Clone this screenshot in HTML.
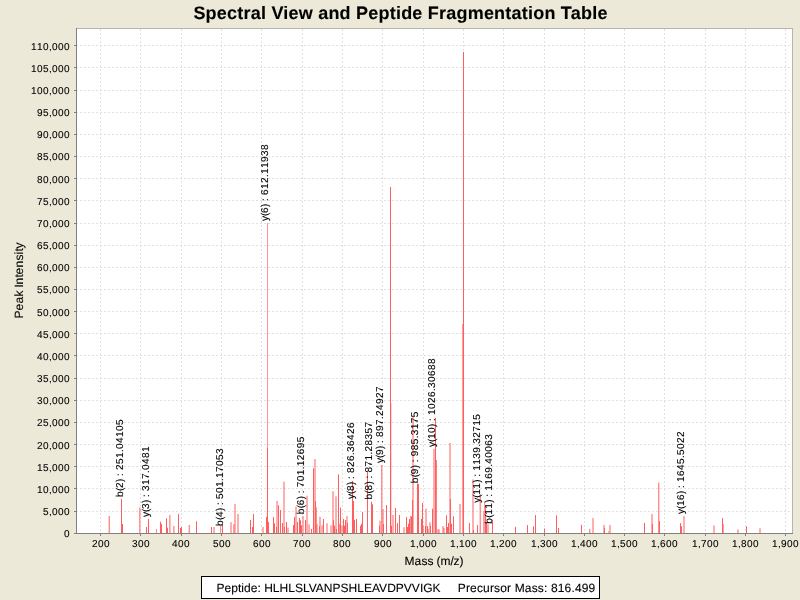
<!DOCTYPE html><html><head><meta charset="utf-8"><title>Spectral View and Peptide Fragmentation Table</title>
<style>html,body{margin:0;padding:0;background:#ECE9D8;width:800px;height:600px;overflow:hidden}svg{display:block;will-change:transform}text{font-family:'Liberation Sans', Arial, sans-serif;fill:#000;text-rendering:geometricPrecision;stroke:#000;stroke-width:0.1px}</style></head><body>
<svg width="800" height="600" viewBox="0 0 800 600">
<rect x="0" y="0" width="800" height="600" fill="#ECE9D8"/>
<text x="400.4" y="19" text-anchor="middle" font-weight="bold" font-size="18" textLength="414" lengthAdjust="spacing">Spectral View and Peptide Fragmentation Table</text>
<rect x="76" y="28" width="717" height="506" fill="#FFFFFF"/>
<path d="M100.5 29V533M140.5 29V533M181.5 29V533M221.5 29V533M261.5 29V533M302.5 29V533M342.5 29V533M382.5 29V533M423.5 29V533M463.5 29V533M503.5 29V533M544.5 29V533M584.5 29V533M624.5 29V533M664.5 29V533M705.5 29V533M745.5 29V533M785.5 29V533M76 511.5H792M76 488.5H792M76 466.5H792M76 444.5H792M76 422.5H792M76 400.5H792M76 378.5H792M76 355.5H792M76 333.5H792M76 311.5H792M76 289.5H792M76 267.5H792M76 245.5H792M76 223.5H792M76 200.5H792M76 178.5H792M76 156.5H792M76 134.5H792M76 112.5H792M76 90.5H792M76 67.5H792M76 45.5H792" stroke="#E0E0E0" stroke-width="1" stroke-dasharray="2 2" fill="none" shape-rendering="crispEdges"/>
<path d="M109.2 516.0V533M121.5 499.0V533M122.5 524.0V533M139.85 507.5V533M146.5 527.0V533M148.5 519.0V533M160.5 521.7V533M161.5 524.0V533M166.5 518.3V533M167.5 527.7V533M169.9 515.0V533M173.9 526.0V533M178.5 514.0V533M180.5 528.0V533M181.5 527.0V533M189.2 525.0V533M196.5 521.3V533M211.5 527.0V533M214.0 527.0V533M222.5 525.3V533M231.0 522.2V533M233.9 524.2V533M235.0 504.0V533M238.0 514.0V533M250.5 520.0V533M252.5 527.0V533M253.5 514.0V533M263.0 527.0V533M266.5 517.0V533M267.5 448.0V533M268.5 522.0V533M273.5 517.0V533M274.5 523.3V533M276.5 527.0V533M277.0 501.0V533M278.5 505.3V533M280.5 510.0V533M282.5 523.0V533M284.0 481.7V533M284.5 527.0V533M286.5 522.0V533M288.0 527.7V533M293.5 525.0V533M294.5 517.0V533M296.0 506.7V533M297.5 522.0V533M299.5 518.0V533M300.5 520.3V533M301.5 525.3V533M303.0 516.0V533M305.5 520.0V533M307.0 495.7V533M309.0 524.3V533M311.5 529.0V533M313.5 468.3V533M315.0 459.1V533M315.5 501.0V533M317.0 524.3V533M320.0 516.7V533M319.5 526.0V533M322.0 525.3V533M323.5 519.0V533M327.0 523.3V533M331.0 525.3V533M333.0 491.3V533M333.5 520.0V533M334.5 525.7V533M336.0 496.3V533M336.5 529.0V533M338.5 474.3V533M340.5 507.7V533M342.0 525.7V533M343.5 519.0V533M344.5 525.7V533M345.5 520.0V533M347.0 516.0V533M347.5 523.0V533M352.5 481.0V533M353.5 501.0V533M354.5 520.0V533M356.5 519.0V533M360.5 525.7V533M361.5 523.8V533M362.5 512.0V533M367.5 472.0V533M371.5 501.7V533M372.5 504.3V533M380.0 520.7V533M379.5 525.7V533M381.8 465.0V533M383.0 509.0V533M383.5 524.0V533M386.5 505.0V533M390.5 187.0V533M391.5 525.7V533M393.0 515.0V533M395.5 508.0V533M397.5 523.3V533M399.5 515.0V533M404.0 527.3V533M406.5 517.0V533M407.5 527.0V533M408.5 523.7V533M409.5 519.0V533M411.5 516.3V533M412.5 500.0V533M413.0 416.0V533M417.5 483.5V533M418.5 484.0V533M421.5 519.0V533M422.5 503.0V533M425.5 526.0V533M426.0 508.7V533M427.5 526.0V533M430.0 522.3V533M430.5 526.0V533M432.5 508.7V533M434.0 449.0V533M435.5 418.0V533M436.3 460.0V533M438.0 529.3V533M439.0 529.3V533M443.0 526.0V533M444.0 528.0V533M446.5 515.3V533M447.5 527.0V533M448.5 523.0V533M450.0 443.0V533M450.5 499.0V533M451.5 523.7V533M453.5 516.3V533M460.0 504.0V533M463.5 52.0V533M469.5 523.0V533M473.0 479.4V533M473.5 530.0V533M477.5 525.0V533M480.2 494.2V533M485.5 505.8V533M486.5 522.5V533M488.0 524.2V533M492.5 519.6V533M515.5 526.8V533M527.5 525.1V533M533.5 526.3V533M535.5 515.1V533M544.5 528.5V533M556.5 515.3V533M558.5 527.9V533M581.5 524.8V533M589.8 528.8V533M593.0 518.1V533M604.0 525.1V533M604.5 527.9V533M610.0 525.0V533M644.5 522.9V533M652.0 514.1V533M652.5 524.0V533M658.8 482.6V533M659.5 521.1V533M680.5 523.1V533M681.5 526.3V533M684.0 516.2V533M714.0 525.4V533M722.5 518.1V533M738.0 529.5V533M746.5 526.3V533M760.0 528.2V533" stroke="#FF5E5E" stroke-opacity="1.0" stroke-width="1" fill="none"/>
<path d="M156.5 529.0V533M220.5 525.3V533M316.5 507.3V533M339.5 524.0V533M410.5 516.0V533" stroke="#FF5E5E" stroke-opacity="0.7" stroke-width="1" fill="none"/>
<path d="M267.5 223.0V533" stroke="#FF5E5E" stroke-opacity="0.65" stroke-width="1" fill="none"/>
<path d="M391.0 403.7V533M608.5 531.0V533" stroke="#FF5E5E" stroke-opacity="0.5" stroke-width="1" fill="none"/>
<path d="M423.5 525.7V533M428.5 529.0V533M462.5 324.0V533M483.5 510.8V533M484.5 501.7V533M723.5 524.0V533" stroke="#FF5E5E" stroke-opacity="0.6" stroke-width="1" fill="none"/>
<path d="M76 28.5H792.5M792.5 28V534" stroke="#B5B5AE" stroke-width="1" fill="none" shape-rendering="crispEdges"/>
<path d="M76.5 28V534M76 533.5H793" stroke="#808080" stroke-width="1" fill="none" shape-rendering="crispEdges"/>
<path d="M100.5 534V536M140.5 534V536M181.5 534V536M221.5 534V536M261.5 534V536M302.5 534V536M342.5 534V536M382.5 534V536M423.5 534V536M463.5 534V536M503.5 534V536M544.5 534V536M584.5 534V536M624.5 534V536M664.5 534V536M705.5 534V536M745.5 534V536M785.5 534V536M74 533.5H76M74 511.5H76M74 488.5H76M74 466.5H76M74 444.5H76M74 422.5H76M74 400.5H76M74 378.5H76M74 355.5H76M74 333.5H76M74 311.5H76M74 289.5H76M74 267.5H76M74 245.5H76M74 223.5H76M74 200.5H76M74 178.5H76M74 156.5H76M74 134.5H76M74 112.5H76M74 90.5H76M74 67.5H76M74 45.5H76" stroke="#808080" stroke-width="1" fill="none" shape-rendering="crispEdges"/>
<g><text x="92 98 104" y="547" font-size="10">200</text><text x="132 138 144" y="547" font-size="10">300</text><text x="172 178 184" y="547" font-size="10">400</text><text x="213 219 225" y="547" font-size="10">500</text><text x="253 259 265" y="547" font-size="10">600</text><text x="293 299 305" y="547" font-size="10">700</text><text x="333 339 345" y="547" font-size="10">800</text><text x="374 380 386" y="547" font-size="10">900</text><text x="410 416 419 425 431" y="547" font-size="10">1,000</text><text x="450 456 459 465 471" y="547" font-size="10">1,100</text><text x="490 496 499 505 511" y="547" font-size="10">1,200</text><text x="531 537 540 546 552" y="547" font-size="10">1,300</text><text x="571 577 580 586 592" y="547" font-size="10">1,400</text><text x="611 617 620 626 632" y="547" font-size="10">1,500</text><text x="651 657 660 666 672" y="547" font-size="10">1,600</text><text x="692 698 701 707 713" y="547" font-size="10">1,700</text><text x="732 738 741 747 753" y="547" font-size="10">1,800</text><text x="772 778 781 787 793" y="547" font-size="10">1,900</text><text x="64" y="537" font-size="10">0</text><text x="43 49 52 58 64" y="515" font-size="10">5,000</text><text x="37 43 49 52 58 64" y="493" font-size="10">10,000</text><text x="37 43 49 52 58 64" y="471" font-size="10">15,000</text><text x="37 43 49 52 58 64" y="449" font-size="10">20,000</text><text x="37 43 49 52 58 64" y="426" font-size="10">25,000</text><text x="37 43 49 52 58 64" y="404" font-size="10">30,000</text><text x="37 43 49 52 58 64" y="382" font-size="10">35,000</text><text x="37 43 49 52 58 64" y="360" font-size="10">40,000</text><text x="37 43 49 52 58 64" y="338" font-size="10">45,000</text><text x="37 43 49 52 58 64" y="316" font-size="10">50,000</text><text x="37 43 49 52 58 64" y="293" font-size="10">55,000</text><text x="37 43 49 52 58 64" y="271" font-size="10">60,000</text><text x="37 43 49 52 58 64" y="249" font-size="10">65,000</text><text x="37 43 49 52 58 64" y="227" font-size="10">70,000</text><text x="37 43 49 52 58 64" y="205" font-size="10">75,000</text><text x="37 43 49 52 58 64" y="183" font-size="10">80,000</text><text x="37 43 49 52 58 64" y="160" font-size="10">85,000</text><text x="37 43 49 52 58 64" y="138" font-size="10">90,000</text><text x="37 43 49 52 58 64" y="116" font-size="10">95,000</text><text x="31 37 43 49 52 58 64" y="94" font-size="10">100,000</text><text x="31 37 43 49 52 58 64" y="72" font-size="10">105,000</text><text x="31 37 43 49 52 58 64" y="50" font-size="10">110,000</text></g>
<text x="404.5 414.5 421.5 427.5 433.5 436.5 440.5 450.5 453.5 459.5" y="565" font-size="12">Mass (m/z)</text>
<text x="-38 -30 -23 -16 -10 -7 -4 3 6 13 20 26 29 32" y="0" font-size="12" transform="translate(23,280.5) rotate(-90)">Peak Intensity</text>
<g><text x="0 6 9 15 18 21 24 27 33 39 45 48 54 60 66 72" y="0" font-size="10" transform="translate(122.7,496.9) rotate(-90)">b(2) : 251.04105</text><text x="0 5 8 14 17 20 23 26 32 38 44 47 53 59 65" y="0" font-size="10" transform="translate(148.6,517) rotate(-90)">y(3) : 317.0481</text><text x="0 6 9 15 18 21 24 27 33 39 45 48 54 60 66 72" y="0" font-size="10" transform="translate(222.6,525.9) rotate(-90)">b(4) : 501.17053</text><text x="0 5 8 14 17 20 23 26 32 38 44 47 53 59 65 71" y="0" font-size="10" transform="translate(267.5,221) rotate(-90)">y(6) : 612.11938</text><text x="0 6 9 15 18 21 24 27 33 39 45 48 54 60 66 72" y="0" font-size="10" transform="translate(304.0,514.2) rotate(-90)">b(6) : 701.12695</text><text x="0 5 8 14 17 20 23 26 32 38 44 47 53 59 65 71" y="0" font-size="10" transform="translate(353.9,499.0) rotate(-90)">y(8) : 826.36426</text><text x="0 6 9 15 18 21 24 27 33 39 45 48 54 60 66 72" y="0" font-size="10" transform="translate(371.8,499.6) rotate(-90)">b(8) : 871.28357</text><text x="0 5 8 14 17 20 23 26 32 38 44 47 53 59 65 71" y="0" font-size="10" transform="translate(382.5,463) rotate(-90)">y(9) : 897.24927</text><text x="0 6 9 15 18 21 24 27 33 39 45 48 54 60 66" y="0" font-size="10" transform="translate(418.2,483.3) rotate(-90)">b(9) : 985.3175</text><text x="0 5 8 14 20 23 26 29 32 38 44 50 56 59 65 71 77 83" y="0" font-size="10" transform="translate(434.6,447) rotate(-90)">y(10) : 1026.30688</text><text x="0 5 8 14 20 23 26 29 32 38 44 50 56 59 65 71 77 83" y="0" font-size="10" transform="translate(480.0,502.7) rotate(-90)">y(11) : 1139.32715</text><text x="0 6 9 15 21 24 27 30 33 39 45 51 57 60 66 72 78 84" y="0" font-size="10" transform="translate(491.9,523.8) rotate(-90)">b(11) : 1169.40063</text><text x="0 5 8 14 20 23 26 29 32 38 44 50 56 59 65 71 77" y="0" font-size="10" transform="translate(684.0,514) rotate(-90)">y(16) : 1645.5022</text></g>
<rect x="201.5" y="576.5" width="398" height="22" fill="#FFFFFF" stroke="#000" stroke-width="1"/>
<text x="216.6" y="592" font-size="12" textLength="224" lengthAdjust="spacing">Peptide: HLHLSLVANPSHLEAVDPVVIGK</text>
<text x="457.8" y="592" font-size="12" textLength="137.5" lengthAdjust="spacing">Precursor Mass: 816.499</text>
</svg></body></html>
